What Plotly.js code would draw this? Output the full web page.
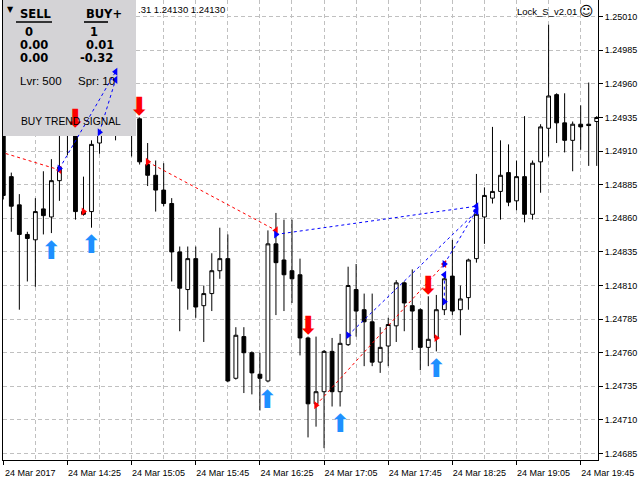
<!DOCTYPE html>
<html>
<head>
<meta charset="utf-8">
<script src="https://cdn.plot.ly/plotly-3.0.1.min.js"></script>
<style>
  html, body { margin: 0; padding: 0; background: #ffffff; }
  #chart { width: 640px; height: 480px; }
</style>
</head>
<body>
<div id="chart"></div>
<script>
// M5 bars, 24 Mar 2017
var barTimes = [
    '13:45','13:50','13:55','14:00','14:05','14:10','14:15','14:20','14:25','14:30',
    '14:35','14:40','14:45','14:50','14:55','15:00','15:05','15:10','15:15','15:20',
    '15:25','15:30','15:35','15:40','15:45','15:50','15:55','16:00','16:05','16:10',
    '16:15','16:20','16:25','16:30','16:35','16:40','16:45','16:50','16:55','17:00',
    '17:05','17:10','17:15','17:20','17:25','17:30','17:35','17:40','17:45','17:50',
    '17:55','18:00','18:05','18:10','18:15','18:20','18:25','18:30','18:35','18:40',
    '18:45','18:50','18:55','19:00','19:05','19:10','19:15','19:20','19:25','19:30',
    '19:35','19:40','19:45','19:50','19:55'
];

var opens = [
    1.24929, 1.24891, 1.24870, 1.24848, 1.24844, 1.24867, 1.24861, 1.24888, 1.24923, 1.24924,
    1.24865, 1.24865, 1.24916, 1.24939, 1.24956, 1.24944, 1.24939, 1.24934, 1.24900, 1.24892,
    1.24881, 1.24871, 1.24835, 1.24807, 1.24830, 1.24795, 1.24804, 1.24821, 1.24830, 1.24741,
    1.24772, 1.24760, 1.24744, 1.24739, 1.24841, 1.24829, 1.24821, 1.24818, 1.24771, 1.24722,
    1.24731, 1.24761, 1.24731, 1.24766, 1.24807, 1.24792, 1.24783, 1.24753, 1.24765, 1.24780,
    1.24812, 1.24795, 1.24792, 1.24764, 1.24771, 1.24792, 1.24817, 1.24792, 1.24801, 1.24830,
    1.24861, 1.24875, 1.24880, 1.24894, 1.24873, 1.24891, 1.24863, 1.24902, 1.24927, 1.24952,
    1.24931, 1.24918, 1.24930, 1.24930, 1.24932
];
var highs = [
    1.24933, 1.24894, 1.24878, 1.24850, 1.24875, 1.24895, 1.24904, 1.24926, 1.24941, 1.24926,
    1.24891, 1.24918, 1.24948, 1.24963, 1.24970, 1.24955, 1.24948, 1.24935, 1.24916, 1.24903,
    1.24901, 1.24875, 1.24839, 1.24839, 1.24839, 1.24810, 1.24834, 1.24853, 1.24848, 1.24779,
    1.24779, 1.24761, 1.24760, 1.24851, 1.24864, 1.24859, 1.24859, 1.24830, 1.24772, 1.24772,
    1.24762, 1.24771, 1.24774, 1.24824, 1.24826, 1.24804, 1.24804, 1.24779, 1.24786, 1.24814,
    1.24813, 1.24822, 1.24793, 1.24802, 1.24803, 1.24818, 1.24844, 1.24810, 1.24830, 1.24893,
    1.24883, 1.24928, 1.24918, 1.24915, 1.24903, 1.24936, 1.24903, 1.24930, 1.25004, 1.24953,
    1.24953, 1.24932, 1.24944, 1.24961, 1.24936
];
var lows = [
    1.24874, 1.24850, 1.24792, 1.24813, 1.24809, 1.24848, 1.24849, 1.24873, 1.24907, 1.24859,
    1.24862, 1.24853, 1.24908, 1.24929, 1.24918, 1.24927, 1.24906, 1.24900, 1.24884, 1.24865,
    1.24869, 1.24813, 1.24776, 1.24792, 1.24786, 1.24768, 1.24791, 1.24815, 1.24738, 1.24740,
    1.24730, 1.24729, 1.24717, 1.24738, 1.24788, 1.24791, 1.24797, 1.24758, 1.24697, 1.24705,
    1.24689, 1.24720, 1.24720, 1.24765, 1.24772, 1.24750, 1.24750, 1.24745, 1.24750, 1.24768,
    1.24776, 1.24762, 1.24747, 1.24750, 1.24761, 1.24788, 1.24788, 1.24773, 1.24792, 1.24827,
    1.24841, 1.24871, 1.24859, 1.24869, 1.24866, 1.24857, 1.24859, 1.24879, 1.24906, 1.24916,
    1.24909, 1.24895, 1.24911, 1.24899, 1.24899
];
var closes = [
    1.24877, 1.24869, 1.24848, 1.24845, 1.24865, 1.24862, 1.24888, 1.24898, 1.24935, 1.24865,
    1.24863, 1.24915, 1.24939, 1.24956, 1.24944, 1.24939, 1.24934, 1.24902, 1.24892, 1.24881,
    1.24871, 1.24835, 1.24808, 1.24830, 1.24794, 1.24804, 1.24821, 1.24830, 1.24739, 1.24773,
    1.24760, 1.24745, 1.24741, 1.24841, 1.24827, 1.24818, 1.24815, 1.24771, 1.24722, 1.24731,
    1.24761, 1.24731, 1.24767, 1.24810, 1.24791, 1.24783, 1.24753, 1.24764, 1.24781, 1.24812,
    1.24797, 1.24791, 1.24764, 1.24770, 1.24792, 1.24815, 1.24791, 1.24800, 1.24829, 1.24863,
    1.24877, 1.24880, 1.24892, 1.24872, 1.24891, 1.24863, 1.24901, 1.24928, 1.24951, 1.24931,
    1.24918, 1.24930, 1.24928, 1.24929, 1.24935
];

// trend arrows (bar index)
var sellSignalBars = [9, 17, 38, 53];
var buySignalBars = [6, 11, 33, 42, 54];

// orders: open / close (null close = still open)
var buyOpenTimes   = ['14:20', '14:45', '16:35', '17:20', '18:20', '18:20'];
var buyOpenPrices  = [1.24897, 1.24924, 1.24848, 1.24773, 1.24798, 1.24826];
var buyCloseTimes  = ['14:55', '14:55', '18:40', '18:40', '18:20', '18:40'];
var buyClosePrices = [1.24969, 1.24963, 1.24869, 1.24865, 1.24818, 1.24866];

var sellOpenTimes   = ['13:25', '14:35', '15:15', '17:00', '18:15'];
var sellOpenPrices  = [1.24916, 1.24865, 1.24902, 1.24721, 1.24771];
var sellCloseTimes  = ['14:20', null, '16:35', '18:20', null];
var sellClosePrices = [1.24896, null, 1.24851, 1.24826, null];

var axisTickTimes  = ['13:45', '14:25', '15:05', '15:45', '16:25', '17:05', '17:45', '18:25', '19:05', '19:45'];
var axisTickLabels = ['24 Mar 2017', '24 Mar 14:25', '24 Mar 15:05', '24 Mar 15:45', '24 Mar 16:25',
                      '24 Mar 17:05', '24 Mar 17:45', '24 Mar 18:25', '24 Mar 19:05', '24 Mar 19:45'];

var DAY = '2017-03-24 ';
function t(hm) { return DAY + hm; }

var W = 640, H = 480;
var M = {l: 3, r: 42, t: 0, b: 20};
var plotW = W - M.l - M.r, plotH = H - M.t - M.b;
var xRange = [Date.UTC(2017, 2, 24, 13, 44, 49), Date.UTC(2017, 2, 24, 19, 55, 48)];
var yRange = [1.246802, 1.250224];

function paperX(px) { return (px - M.l) / plotW; }
function paperY(py) { return (H - M.b - py) / plotH; }
function pxToMs(px) { return xRange[0] + (px - M.l) / plotW * (xRange[1] - xRange[0]); }
function pxToPrice(py) { return yRange[1] - (py - M.t) / plotH * (yRange[1] - yRange[0]); }

var gridColor = '#c0c0c0';
var gridDash = '4px,3px';
var txtFont = 'Liberation Sans, Arial, sans-serif';

var candles = {
    type: 'candlestick',
    x: barTimes.map(t),
    open: opens, high: highs, low: lows, close: closes,
    increasing: {line: {color: '#000000', width: 1}, fillcolor: '#ffffff'},
    decreasing: {line: {color: '#000000', width: 1}, fillcolor: '#000000'},
    whiskerwidth: 0,
    hoverinfo: 'skip'
};

// info panel, drawn as a filled trace so the order arrows can sit on top of it
var panelL = pxToMs(2.7), panelR = pxToMs(136);
var panelB = pxToPrice(136), panelT = yRange[1];
var panel = {
    type: 'scatter', mode: 'lines',
    x: [panelL, panelR, panelR, panelL, panelL],
    y: [panelB, panelB, panelT, panelT, panelB],
    fill: 'toself', fillcolor: '#d4d3d6',
    line: {width: 0},
    hoverinfo: 'skip'
};

function tradeLines(oT, oP, cT, cP, color) {
    var xs = [], ys = [];
    for (var i = 0; i < oT.length; i++) {
        if (cT[i] === null) continue;
        xs.push(t(oT[i]), t(cT[i]), null);
        ys.push(oP[i], cP[i], null);
    }
    return {
        type: 'scatter', mode: 'lines', x: xs, y: ys,
        line: {color: color, width: 1, dash: '3px,3px'},
        hoverinfo: 'skip'
    };
}

function tradeMarks(times, prices, symbol, color) {
    var xs = [], ys = [];
    for (var i = 0; i < times.length; i++) {
        if (times[i] === null) continue;
        xs.push(t(times[i]));
        ys.push(prices[i]);
    }
    return {
        type: 'scatter', mode: 'markers', x: xs, y: ys,
        marker: {symbol: symbol, size: 7, color: color, line: {width: 0}},
        hoverinfo: 'skip'
    };
}

var data = [
    candles,
    panel,
    tradeLines(sellOpenTimes, sellOpenPrices, sellCloseTimes, sellClosePrices, '#ff0000'),
    tradeLines(buyOpenTimes, buyOpenPrices, buyCloseTimes, buyClosePrices, '#0000ff'),
    tradeMarks(sellOpenTimes, sellOpenPrices, 'triangle-right', '#ff0000'),
    tradeMarks(sellCloseTimes, sellClosePrices, 'triangle-left', '#ff0000'),
    tradeMarks(buyOpenTimes, buyOpenPrices, 'triangle-right', '#0000ff'),
    tradeMarks(buyCloseTimes, buyClosePrices, 'triangle-left', '#0000ff')
];

var annotations = [];
sellSignalBars.forEach(function (i) {
    annotations.push({
        x: t(barTimes[i]), y: highs[i], xref: 'x', yref: 'y',
        text: '\u2B07', showarrow: false, yshift: 11,
        font: {family: 'DejaVu Sans', size: 25, color: '#ff0000'}
    });
});
buySignalBars.forEach(function (i) {
    annotations.push({
        x: t(barTimes[i]), y: lows[i], xref: 'x', yref: 'y',
        text: '\u2B06', showarrow: false, yshift: -17,
        font: {family: 'DejaVu Sans', size: 25, color: '#1e90ff'}
    });
});

function label(text, px, py, anchor, font) {
    annotations.push({
        xref: 'paper', yref: 'paper', x: paperX(px), y: paperY(py),
        xanchor: anchor, yanchor: 'middle', text: text, showarrow: false,
        font: font
    });
}
var boldFont = {family: 'DejaVu Sans', size: 11.5, color: '#000000', weight: 'bold'};
var plainFont = {family: txtFont, size: 11.5, color: '#000000'};

label('\u25BC', 5, 10, 'left', {family: 'DejaVu Sans', size: 8, color: '#000000'});
label('SELL', 18, 14, 'left', boldFont);
label('BUY+', 84, 14, 'left', boldFont);
label('0', 28.5, 32, 'center', boldFont);
label('1', 94, 32, 'center', boldFont);
label('0.00', 18, 44.5, 'left', boldFont);
label('0.01', 84, 44.5, 'left', boldFont);
label('0.00', 18, 58.5, 'left', boldFont);
label('-0.32', 78, 58.5, 'left', boldFont);
label('Lvr: 500', 18, 80.5, 'left', plainFont);
label('Spr: 10', 76, 80.5, 'left', plainFont);
label('BUY TREND SIGNAL', 19, 121, 'left', {family: txtFont, size: 10.3, color: '#000000'});
label('.31 1.24130 1.24130', 136, 10, 'left', {family: txtFont, size: 9.5, color: '#000000'});
label('Lock_S_v2.01', 579, 12, 'right', {family: txtFont, size: 9.5, color: '#000000'});
label('\u263A', 586, 11, 'center', {family: 'DejaVu Sans', size: 14, color: '#000000'});

var shapes = [
    {type: 'line', xref: 'paper', yref: 'paper', x0: paperX(16), x1: paperX(52), y0: paperY(22), y1: paperY(22),
     line: {color: '#000000', width: 1.6}, layer: 'above'},
    {type: 'line', xref: 'paper', yref: 'paper', x0: paperX(84), x1: paperX(108), y0: paperY(22), y1: paperY(22),
     line: {color: '#000000', width: 1.6}, layer: 'above'}
];

var layout = {
    width: W, height: H,
    margin: M,
    paper_bgcolor: '#ffffff', plot_bgcolor: '#ffffff',
    showlegend: false,
    boxgap: 0.32,
    xaxis: {
        type: 'date',
        range: xRange,
        rangeslider: {visible: false},
        tickmode: 'array',
        tickvals: axisTickTimes.map(t),
        ticktext: axisTickLabels,
        ticks: 'outside', ticklen: 4, tickcolor: '#000000',
        ticklabelshift: 27,
        tickfont: {family: txtFont, size: 9, color: '#000000'},
        showline: true, linecolor: '#000000', linewidth: 1,
        showgrid: true, gridcolor: gridColor, griddash: gridDash, gridwidth: 1,
        minor: {tick0: t('13:45'), dtick: 20 * 60 * 1000, showgrid: true,
                gridcolor: gridColor, griddash: gridDash, gridwidth: 1, ticks: ''},
        zeroline: false, fixedrange: true
    },
    yaxis: {
        side: 'right',
        range: yRange,
        tickmode: 'linear', tick0: 1.24685, dtick: 0.00025,
        tickformat: '.5f',
        ticks: 'outside', ticklen: 4, tickcolor: '#000000',
        tickfont: {family: txtFont, size: 9, color: '#000000'},
        showline: true, mirror: true, linecolor: '#000000', linewidth: 1,
        showgrid: true, gridcolor: gridColor, griddash: gridDash, gridwidth: 1,
        zeroline: false, fixedrange: true
    },
    annotations: annotations,
    shapes: shapes
};

Plotly.newPlot('chart', data, layout, {staticPlot: true, displayModeBar: false});
</script>
</body>
</html>
